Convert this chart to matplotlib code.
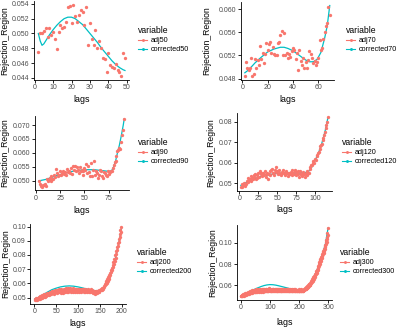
import numpy as np
import matplotlib
matplotlib.use('Agg')
import matplotlib.pyplot as plt
from matplotlib.lines import Line2D
from matplotlib.ticker import FormatStrFormatter

plt.rcParams['font.family'] = ['Liberation Sans', 'DejaVu Sans']

RED = '#F8766D'
CYAN = '#00BFC4'

# --- data (Rejection_Region by lag) ---
adj50 = [0.0475, 0.0500, 0.0500, 0.0504, 0.0507, 0.0495, 0.0507, 0.0498, 0.0502, 0.0493,
         0.0479, 0.0502, 0.0511, 0.0507, 0.0509, 0.0515, 0.0536, 0.0537, 0.0514, 0.0539,
         0.0523, 0.0515, 0.0525, 0.0532, 0.0529, 0.0512, 0.0536, 0.0485, 0.0514, 0.0493,
         0.0485, 0.0505, 0.0480, 0.0490, 0.0480, 0.0467, 0.0466, 0.0448, 0.0474, 0.0458,
         0.0455, 0.0453, 0.0459, 0.0450, 0.0448, 0.0442, 0.0474, 0.0467]
lags50 = np.arange(2, 2 + len(adj50))
corr50_lags = [2, 3, 4, 5, 6, 8, 10, 12, 14, 16, 18, 20, 22, 24, 26, 28, 30, 32, 34, 36,
               38, 40, 42, 44, 46, 48, 49]
corrected50 = [0.0500, 0.0490, 0.0484, 0.0486, 0.0490, 0.0498, 0.0505, 0.0511, 0.0516, 0.0520,
               0.0522, 0.0522, 0.0520, 0.0516, 0.0512, 0.0506, 0.0500, 0.0494, 0.0488, 0.0481,
               0.0475, 0.0469, 0.0463, 0.0458, 0.0454, 0.0451, 0.0450]

adj70 = [0.0484, 0.0508, 0.0499, 0.0495, 0.0498, 0.0516, 0.0484, 0.0488, 0.0513, 0.0498,
         0.0512, 0.0503, 0.0536, 0.0514, 0.0524, 0.0507, 0.0522, 0.0542, 0.0530, 0.0539,
         0.0543, 0.0524, 0.0534, 0.0523, 0.0521, 0.0520, 0.0542, 0.0543, 0.0555, 0.0562,
         0.0520, 0.0558, 0.0520, 0.0524, 0.0516, 0.0523, 0.0517, 0.0528, 0.0533, 0.0530,
         0.0513, 0.0524, 0.0495, 0.0530, 0.0510, 0.0504, 0.0516, 0.0498, 0.0509, 0.0498,
         0.0512, 0.0527, 0.0522, 0.0516, 0.0507, 0.0510, 0.0504, 0.0508, 0.0516, 0.0547,
         0.0530, 0.0533, 0.0548, 0.0560, 0.0571, 0.0576, 0.0603, 0.0590]
lags70 = np.arange(2, 2 + len(adj70))
corr70_lags = [2, 5, 10, 15, 20, 25, 30, 33, 36, 40, 45, 50, 53, 56, 59, 62, 65, 67, 69]
corrected70 = [0.0490, 0.0495, 0.0507, 0.0517, 0.0526, 0.0531, 0.0534, 0.0534, 0.0532, 0.0528,
               0.0520, 0.0512, 0.0509, 0.0509, 0.0513, 0.0525, 0.0550, 0.0571, 0.0606]

adj90 = [0.0500, 0.0490, 0.0482, 0.0478, 0.0485, 0.0485, 0.0490, 0.0482, 0.0506, 0.0500,
         0.0504, 0.0510, 0.0500, 0.0516, 0.0508, 0.0506, 0.0522, 0.0515, 0.0543, 0.0528,
         0.0518, 0.0522, 0.0534, 0.0520, 0.0528, 0.0537, 0.0526, 0.0530, 0.0522, 0.0542,
         0.0530, 0.0537, 0.0528, 0.0546, 0.0525, 0.0554, 0.0540, 0.0552, 0.0534, 0.0550,
         0.0540, 0.0528, 0.0550, 0.0536, 0.0540, 0.0522, 0.0534, 0.0545, 0.0538, 0.0561,
         0.0528, 0.0554, 0.0530, 0.0516, 0.0564, 0.0516, 0.0540, 0.0570, 0.0522, 0.0534,
         0.0528, 0.0510, 0.0522, 0.0540, 0.0534, 0.0516, 0.0510, 0.0530, 0.0528, 0.0520,
         0.0516, 0.0534, 0.0526, 0.0530, 0.0536, 0.0534, 0.0545, 0.0558, 0.0566, 0.0570,
         0.0590, 0.0606, 0.0612, 0.0618, 0.0614, 0.0640, 0.0666, 0.0682, 0.0722]
lags90 = np.arange(3, 3 + len(adj90))
corr90_lags = [3, 10, 20, 30, 40, 50, 60, 70, 75, 78, 80, 82, 84, 86, 88, 90, 91]
corrected90 = [0.0500, 0.0505, 0.0517, 0.0528, 0.0536, 0.0540, 0.0540, 0.0536, 0.0534, 0.0536,
               0.0550, 0.0570, 0.0600, 0.0628, 0.0662, 0.0700, 0.0722]

adj120 = [0.0484, 0.0480, 0.0495, 0.0490, 0.0500, 0.0488, 0.0498, 0.0495, 0.0511, 0.0505,
          0.0527, 0.0515, 0.0522, 0.0510, 0.0535, 0.0524, 0.0519, 0.0530, 0.0538, 0.0543,
          0.0520, 0.0527, 0.0540, 0.0551, 0.0530, 0.0562, 0.0548, 0.0543, 0.0536, 0.0551,
          0.0540, 0.0545, 0.0559, 0.0532, 0.0543, 0.0550, 0.0522, 0.0546, 0.0559, 0.0540,
          0.0565, 0.0570, 0.0548, 0.0551, 0.0538, 0.0564, 0.0556, 0.0578, 0.0560, 0.0543,
          0.0550, 0.0567, 0.0545, 0.0539, 0.0554, 0.0548, 0.0564, 0.0552, 0.0546, 0.0540,
          0.0559, 0.0548, 0.0536, 0.0551, 0.0544, 0.0543, 0.0555, 0.0567, 0.0540, 0.0551,
          0.0546, 0.0564, 0.0558, 0.0539, 0.0548, 0.0560, 0.0543, 0.0531, 0.0559, 0.0547,
          0.0543, 0.0535, 0.0554, 0.0546, 0.0543, 0.0531, 0.0550, 0.0559, 0.0541, 0.0551,
          0.0552, 0.0580, 0.0572, 0.0591, 0.0588, 0.0598, 0.0607, 0.0600, 0.0619, 0.0615,
          0.0631, 0.0636, 0.0647, 0.0652, 0.0667, 0.0680, 0.0685, 0.0691, 0.0710, 0.0720,
          0.0735, 0.0752, 0.0768, 0.0784, 0.0800, 0.0824]
lags120 = np.arange(2, 2 + len(adj120))
corr120_lags = [2, 10, 20, 30, 40, 50, 60, 70, 80, 88, 92, 96, 100, 104, 108, 112, 115, 117]
corrected120 = [0.0490, 0.0505, 0.0522, 0.0535, 0.0543, 0.0548, 0.0550, 0.0550, 0.0550, 0.0553,
                0.0560, 0.0580, 0.0610, 0.0643, 0.0682, 0.0735, 0.0780, 0.0820]

adj200 = [0.0486, 0.0480, 0.0492, 0.0484, 0.0497, 0.0489, 0.0483, 0.0500, 0.0494, 0.0488,
          0.0503, 0.0496, 0.0509, 0.0491, 0.0505, 0.0512, 0.0499, 0.0515, 0.0507, 0.0502,
          0.0518, 0.0510, 0.0523, 0.0506, 0.0516, 0.0527, 0.0513, 0.0521, 0.0530, 0.0517,
          0.0525, 0.0535, 0.0519, 0.0531, 0.0524, 0.0540, 0.0528, 0.0522, 0.0537, 0.0533,
          0.0545, 0.0529, 0.0538, 0.0548, 0.0534, 0.0526, 0.0543, 0.0551, 0.0536, 0.0546,
          0.0539, 0.0555, 0.0532, 0.0549, 0.0542, 0.0558, 0.0537, 0.0552, 0.0545, 0.0534,
          0.0561, 0.0547, 0.0540, 0.0556, 0.0550, 0.0535, 0.0563, 0.0544, 0.0553, 0.0538,
          0.0559, 0.0548, 0.0566, 0.0541, 0.0554, 0.0546, 0.0570, 0.0537, 0.0557, 0.0550,
          0.0543, 0.0565, 0.0552, 0.0539, 0.0560, 0.0547, 0.0555, 0.0536, 0.0568, 0.0549,
          0.0544, 0.0558, 0.0551, 0.0538, 0.0562, 0.0546, 0.0554, 0.0541, 0.0557, 0.0549,
          0.0563, 0.0540, 0.0552, 0.0547, 0.0559, 0.0537, 0.0555, 0.0548, 0.0561, 0.0543,
          0.0550, 0.0557, 0.0539, 0.0553, 0.0546, 0.0560, 0.0542, 0.0551, 0.0556, 0.0538,
          0.0548, 0.0559, 0.0544, 0.0552, 0.0537, 0.0555, 0.0547, 0.0541, 0.0558, 0.0545,
          0.0536, 0.0551, 0.0543, 0.0530, 0.0549, 0.0538, 0.0546, 0.0532, 0.0541, 0.0528,
          0.0547, 0.0535, 0.0543, 0.0530, 0.0549, 0.0538, 0.0545, 0.0552, 0.0541, 0.0555,
          0.0556, 0.0550, 0.0562, 0.0552, 0.0566, 0.0558, 0.0570, 0.0563, 0.0582, 0.0576,
          0.0595, 0.0585, 0.0606, 0.0594, 0.0617, 0.0605, 0.0630, 0.0617, 0.0642, 0.0632,
          0.0658, 0.0645, 0.0674, 0.0661, 0.0692, 0.0677, 0.0710, 0.0695, 0.0729, 0.0714,
          0.0752, 0.0736, 0.0774, 0.0758, 0.0798, 0.0782, 0.0826, 0.0808, 0.0853, 0.0836,
          0.0882, 0.0864, 0.0913, 0.0895, 0.0946, 0.0928, 0.0975, 0.0962, 0.0995]
lags200 = np.arange(1, 1 + len(adj200))
corr200_lags = [1, 10, 20, 30, 40, 50, 60, 70, 80, 90, 100, 110, 120, 130, 140, 150, 155, 160,
                165, 170, 175, 180, 185, 190, 195, 199]
corrected200 = [0.0490, 0.0502, 0.0520, 0.0538, 0.0555, 0.0566, 0.0575, 0.0580, 0.0582, 0.0580,
                0.0575, 0.0568, 0.0560, 0.0553, 0.0548, 0.0550, 0.0555, 0.0568, 0.0590, 0.0625,
                0.0665, 0.0715, 0.0770, 0.0835, 0.0910, 0.0985]

adj300 = [0.0500, 0.0496, 0.0510, 0.0503, 0.0498, 0.0512, 0.0505, 0.0515, 0.0508, 0.0502,
          0.0518, 0.0510, 0.0507, 0.0521, 0.0513, 0.0524, 0.0516, 0.0511, 0.0527, 0.0520,
          0.0515, 0.0530, 0.0522, 0.0518, 0.0533, 0.0526, 0.0540, 0.0521, 0.0529, 0.0536,
          0.0528, 0.0545, 0.0532, 0.0538, 0.0526, 0.0548, 0.0535, 0.0541, 0.0530, 0.0552,
          0.0539, 0.0544, 0.0533, 0.0550, 0.0542, 0.0536, 0.0555, 0.0540, 0.0547, 0.0538,
          0.0553, 0.0545, 0.0560, 0.0541, 0.0549, 0.0536, 0.0557, 0.0546, 0.0552, 0.0543,
          0.0561, 0.0548, 0.0539, 0.0556, 0.0550, 0.0563, 0.0544, 0.0555, 0.0548, 0.0540,
          0.0558, 0.0551, 0.0566, 0.0545, 0.0553, 0.0560, 0.0541, 0.0557, 0.0549, 0.0564,
          0.0552, 0.0543, 0.0559, 0.0548, 0.0568, 0.0554, 0.0546, 0.0561, 0.0550, 0.0542,
          0.0557, 0.0565, 0.0549, 0.0555, 0.0544, 0.0562, 0.0553, 0.0570, 0.0547, 0.0558,
          0.0551, 0.0563, 0.0545, 0.0556, 0.0549, 0.0567, 0.0552, 0.0544, 0.0560, 0.0554,
          0.0548, 0.0565, 0.0557, 0.0543, 0.0559, 0.0551, 0.0562, 0.0546, 0.0555, 0.0568,
          0.0550, 0.0558, 0.0544, 0.0561, 0.0553, 0.0547, 0.0566, 0.0555, 0.0549, 0.0559,
          0.0545, 0.0562, 0.0552, 0.0557, 0.0548, 0.0564, 0.0550, 0.0543, 0.0560, 0.0554,
          0.0558, 0.0547, 0.0563, 0.0551, 0.0556, 0.0545, 0.0561, 0.0553, 0.0548, 0.0566,
          0.0552, 0.0559, 0.0546, 0.0555, 0.0562, 0.0549, 0.0557, 0.0544, 0.0560, 0.0551,
          0.0556, 0.0548, 0.0563, 0.0553, 0.0545, 0.0558, 0.0550, 0.0561, 0.0547, 0.0555,
          0.0559, 0.0546, 0.0553, 0.0562, 0.0549, 0.0556, 0.0544, 0.0558, 0.0551, 0.0547,
          0.0560, 0.0552, 0.0545, 0.0557, 0.0550, 0.0563, 0.0548, 0.0554, 0.0542, 0.0558,
          0.0551, 0.0546, 0.0559, 0.0549, 0.0555, 0.0543, 0.0557, 0.0550, 0.0546, 0.0561,
          0.0548, 0.0554, 0.0544, 0.0558, 0.0551, 0.0547, 0.0560, 0.0549, 0.0553, 0.0545,
          0.0556, 0.0550, 0.0559, 0.0548, 0.0557, 0.0552, 0.0561, 0.0555, 0.0564, 0.0560,
          0.0572, 0.0560, 0.0578, 0.0565, 0.0584, 0.0571, 0.0590, 0.0576, 0.0595, 0.0582,
          0.0600, 0.0587, 0.0608, 0.0594, 0.0615, 0.0600, 0.0622, 0.0607, 0.0630, 0.0617,
          0.0637, 0.0624, 0.0645, 0.0632, 0.0655, 0.0640, 0.0664, 0.0650, 0.0675, 0.0660,
          0.0685, 0.0670, 0.0696, 0.0682, 0.0708, 0.0692, 0.0720, 0.0706, 0.0735, 0.0720,
          0.0748, 0.0731, 0.0762, 0.0746, 0.0780, 0.0762, 0.0797, 0.0780, 0.0815, 0.0800,
          0.0834, 0.0818, 0.0848, 0.0832, 0.0862, 0.0846, 0.0876, 0.0860, 0.0892, 0.0876,
          0.0910, 0.0892, 0.0926, 0.0908, 0.0944, 0.0926, 0.0962, 0.0945, 0.0982, 0.0965,
          0.1003, 0.0985, 0.1028, 0.1010, 0.1055, 0.1038, 0.1090, 0.1075, 0.1138]
lags300 = np.arange(1, 1 + len(adj300))
corr300_lags = [1, 10, 20, 30, 40, 50, 60, 70, 80, 90, 100, 110, 120, 130, 140, 150, 160, 170,
                180, 190, 200, 210, 220, 230, 240, 250, 260, 270, 280, 290, 299]
corrected300 = [0.0500, 0.0510, 0.0525, 0.0540, 0.0553, 0.0565, 0.0577, 0.0588, 0.0597, 0.0603,
                0.0606, 0.0605, 0.0601, 0.0595, 0.0588, 0.0581, 0.0574, 0.0567, 0.0562, 0.0558,
                0.0556, 0.0557, 0.0563, 0.0585, 0.0624, 0.0672, 0.0733, 0.0815, 0.0893, 0.0988,
                0.1138]

W, H = 400, 330
fig = plt.figure(figsize=(W / 100, H / 100), dpi=100)


def px_rect(x0, y0, x1, y1):
    # pixel box (top-left origin) -> figure fraction rect
    return [x0 / W, 1 - y1 / H, (x1 - x0) / W, (y1 - y0) / H]


def draw_panel(box, lags, adj, c_lags, corr, name, xticks, yticks, yfmt,
               ylab_x, xlab_y, leg_pos):
    ax = fig.add_axes(px_rect(*box))
    ax.plot(c_lags, corr, color=CYAN, lw=0.9, zorder=2)
    ax.plot(lags, adj, 'o', color=RED, ms=2.4, mew=0, zorder=3)
    ax.set_xticks(xticks)
    ax.set_yticks(yticks)
    ax.yaxis.set_major_formatter(FormatStrFormatter(yfmt))
    for s in ('top', 'right'):
        ax.spines[s].set_visible(False)
    for s in ('left', 'bottom'):
        ax.spines[s].set_linewidth(0.6)
    ax.tick_params(direction='out', length=2.0, width=0.6, pad=1.2,
                   labelsize=5.0, labelcolor='#4D4D4D')

    ax.set_xlabel('lags', fontsize=6.4, va='center')
    ax.xaxis.set_label_coords((box[0] + box[2]) / 2 / W, 1 - xlab_y / H,
                              transform=fig.transFigure)
    ax.set_ylabel('Rejection_Region', fontsize=6.2, va='center')
    ax.yaxis.set_label_coords(ylab_x / W, 1 - (box[1] + box[3]) / 2 / H,
                              transform=fig.transFigure)

    handles = [Line2D([], [], color=RED, marker='o', ms=2.1, mew=0, lw=0.8),
               Line2D([], [], color=CYAN, marker='o', ms=2.1, mew=0, lw=0.8)]
    ax.legend(handles, ['adj' + name, 'corrected' + name], title='variable',
              loc='upper left', bbox_to_anchor=(leg_pos[0] / W, 1 - leg_pos[1] / H),
              bbox_transform=fig.transFigure, frameon=False, fontsize=5.2,
              title_fontsize=6.2, handlelength=1.3, handletextpad=0.5,
              labelspacing=0.3, borderpad=0, borderaxespad=0, alignment='left')
    return ax


draw_panel((34, 1, 129.3, 80), lags50, adj50, corr50_lags, corrected50, '50',
           [0, 10, 20, 30, 40, 50], [0.044, 0.046, 0.048, 0.050, 0.052, 0.054], '%.3f',
           4.5, 99.3, (138, 26))
draw_panel((240.6, 2, 334, 79.8), lags70, adj70, corr70_lags, corrected70, '70',
           [0, 20, 40, 60], [0.048, 0.052, 0.056, 0.060], '%.3f',
           206.5, 99.3, (346, 26))
draw_panel((34.6, 115.5, 128.5, 190.4), lags90, adj90, corr90_lags, corrected90, '90',
           [0, 25, 50, 75], [0.050, 0.055, 0.060, 0.065, 0.070], '%.3f',
           5.0, 210.7, (138, 138))
draw_panel((236.5, 113.4, 332.2, 190.9), lags120, adj120, corr120_lags, corrected120, '120',
           [0, 25, 50, 75, 100], [0.05, 0.06, 0.07, 0.08], '%.2f',
           210.5, 210, (342, 138))
draw_panel((30.4, 223.7, 125.6, 304), lags200, adj200, corr200_lags, corrected200, '200',
           [0, 50, 100, 150, 200], [0.05, 0.06, 0.07, 0.08, 0.09, 0.10], '%.2f',
           6, 323.3, (137, 248))
draw_panel((236.6, 224.7, 332.4, 299.7), lags300, adj300, corr300_lags, corrected300, '300',
           [0, 100, 200, 300], [0.06, 0.08, 0.10], '%.2f',
           212.5, 322.3, (340, 248))

fig.savefig('out.png', dpi=100, facecolor='white')
